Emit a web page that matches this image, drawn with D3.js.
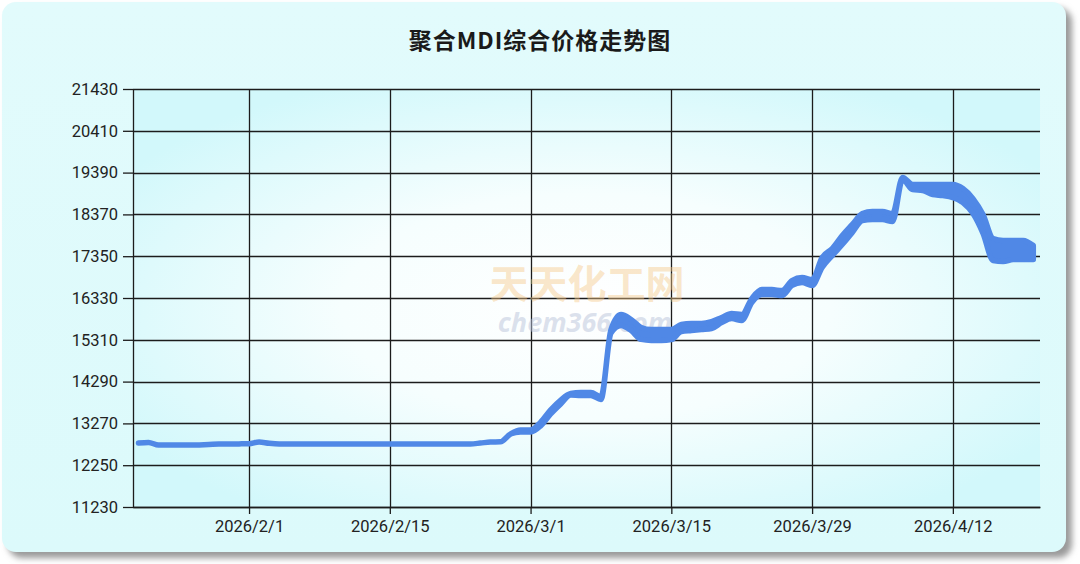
<!DOCTYPE html>
<html>
<head>
<meta charset="utf-8">
<script src="https://cdn.jsdelivr.net/npm/d3@7/dist/d3.min.js"></script>
<style>
  html, body { margin: 0; padding: 0; background: #ffffff; }
  svg { display: block; }
</style>
</head>
<body>
<svg id="chart" width="1080" height="564"></svg>
<script>
// ---------------- DATA ----------------
const chartTitle = "聚合MDI综合价格走势图";
const dates = ["2026-01-21","2026-01-22","2026-01-23","2026-01-26","2026-01-28","2026-01-29","2026-01-31","2026-02-01","2026-02-02","2026-02-03","2026-02-04","2026-02-08","2026-02-12","2026-02-16","2026-02-20","2026-02-23","2026-02-24","2026-02-25","2026-02-26","2026-02-27","2026-02-28","2026-03-01","2026-03-02","2026-03-03","2026-03-04","2026-03-05","2026-03-06","2026-03-07","2026-03-08","2026-03-09","2026-03-10","2026-03-11","2026-03-12","2026-03-13","2026-03-14","2026-03-15","2026-03-16","2026-03-17","2026-03-18","2026-03-19","2026-03-20","2026-03-21","2026-03-22","2026-03-23","2026-03-24","2026-03-25","2026-03-26","2026-03-27","2026-03-28","2026-03-29","2026-03-30","2026-03-31","2026-04-01","2026-04-02","2026-04-03","2026-04-04","2026-04-05","2026-04-06","2026-04-07","2026-04-08","2026-04-09","2026-04-10","2026-04-11","2026-04-12","2026-04-13","2026-04-14","2026-04-15","2026-04-16","2026-04-17","2026-04-18","2026-04-19","2026-04-20"];
const priceHigh = [12790,12805,12740,12740,12755,12765,12770,12775,12815,12785,12770,12770,12765,12770,12770,12770,12790,12815,12820,13010,13110,13110,13300,13600,13840,14000,14025,14025,13925,15560,15925,15805,15610,15560,15560,15560,15685,15710,15710,15755,15855,15950,15925,16315,16535,16535,16510,16755,16830,16780,17320,17535,17855,18125,18390,18440,18440,18390,19270,19100,19100,19100,19100,19100,19000,18755,18365,17780,17735,17735,17735,17610];
const priceLow  = [12790,12805,12740,12740,12755,12765,12770,12775,12815,12785,12770,12770,12765,12770,12770,12770,12790,12815,12820,13010,13060,13060,13210,13500,13745,13960,13950,13950,13855,15480,15660,15535,15320,15295,15295,15315,15510,15535,15560,15585,15730,15830,15780,16220,16415,16415,16390,16635,16710,16635,17075,17365,17635,17930,18220,18245,18245,18195,19220,18975,18955,18855,18830,18780,18660,18390,17905,17245,17220,17270,17270,17270];
const yTickValues = [11230,12250,13270,14290,15310,16330,17350,18370,19390,20410,21430];
const xTickDates  = ["2026-02-01","2026-02-15","2026-03-01","2026-03-15","2026-03-29","2026-04-12"];
const xTickLabels = ["2026/2/1","2026/2/15","2026/3/1","2026/3/15","2026/3/29","2026/4/12"];
const watermarkCN = "天天化工网";
const watermarkEN = "chem366.com";

// ---------------- LAYOUT ----------------
const plot = { left: 133, right: 1040, top: 89, bottom: 507 };
const parse = d3.utcParse("%Y-%m-%d");

const svg = d3.select("#chart");
const defs = svg.append("defs");

const shadow = defs.append("filter").attr("id", "shadow").attr("x", "-5%").attr("y", "-5%").attr("width", "110%").attr("height", "110%");
shadow.append("feGaussianBlur").attr("stdDeviation", 3);

const rg = defs.append("radialGradient").attr("id", "plotBg")
  .attr("cx", "50%").attr("cy", "52%").attr("r", "60%");
rg.append("stop").attr("offset", "0%").attr("stop-color", "#ffffff");
rg.append("stop").attr("offset", "45%").attr("stop-color", "#f6fefe");
rg.append("stop").attr("offset", "100%").attr("stop-color", "#d2f8fb");

const cardG = defs.append("linearGradient").attr("id", "cardBg").attr("x1", 0).attr("y1", 0).attr("x2", 0).attr("y2", 1);
cardG.append("stop").attr("offset", "0%").attr("stop-color", "#e2fbfc");
cardG.append("stop").attr("offset", "100%").attr("stop-color", "#dcfafb");

// card + shadow
svg.append("rect").attr("x", 8).attr("y", 8).attr("width", 1064).attr("height", 550)
  .attr("rx", 14).attr("fill", "#9a9a9a").attr("filter", "url(#shadow)");
svg.append("rect").attr("x", 2).attr("y", 2).attr("width", 1064).attr("height", 550)
  .attr("rx", 14).attr("fill", "url(#cardBg)");

// plot background
svg.append("rect").attr("x", plot.left).attr("y", plot.top)
  .attr("width", plot.right - plot.left).attr("height", plot.bottom - plot.top)
  .attr("fill", "url(#plotBg)");

// scales
const x = d3.scaleUtc()
  .domain([new Date(Date.UTC(2026, 0, 20, 11)), new Date(Date.UTC(2026, 3, 20, 16))])
  .range([plot.left, plot.right]);
const y = d3.scaleLinear().domain([11230, 21430]).range([plot.bottom, plot.top]);

// title
svg.append("text").attr("x", 540).attr("y", 49).attr("text-anchor", "middle")
  .attr("font-family", "'Noto Sans CJK SC', sans-serif").attr("font-weight", "bold")
  .attr("font-size", 23).attr("letter-spacing", 1).attr("fill", "#1a1a1a").text(chartTitle);

// grid
const grid = svg.append("g").attr("stroke", "#1c1c1c").attr("stroke-width", 1.3);
grid.selectAll("line.h").data(yTickValues).join("line").attr("class", "h")
  .attr("x1", plot.left).attr("x2", plot.right)
  .attr("y1", d => Math.round(y(d)) + 0.5).attr("y2", d => Math.round(y(d)) + 0.5);
grid.selectAll("line.v").data(xTickDates).join("line").attr("class", "v")
  .attr("x1", d => Math.round(x(parse(d))) + 0.5).attr("x2", d => Math.round(x(parse(d))) + 0.5)
  .attr("y1", plot.top).attr("y2", plot.bottom);

// watermark
svg.append("text").attr("x", 587).attr("y", 298).attr("text-anchor", "middle")
  .attr("font-family", "'Noto Sans CJK SC', sans-serif").attr("font-weight", "bold")
  .attr("font-size", 39).attr("fill", "#f6c98a").attr("fill-opacity", 0.45).text(watermarkCN);
svg.append("text").attr("x", 585).attr("y", 332).attr("text-anchor", "middle")
  .attr("font-family", "'Open Sans', sans-serif").attr("font-weight", "bold").attr("font-style", "italic")
  .attr("font-size", 27).attr("fill", "#b9c3da").attr("fill-opacity", 0.5).text(watermarkEN);

// axes
const axisFont = "Roboto, 'Liberation Sans', sans-serif";
const yAxis = svg.append("g").attr("transform", `translate(${plot.left},0)`)
  .call(d3.axisLeft(y).tickValues(yTickValues).tickFormat(d3.format("d")).tickSize(10).tickSizeOuter(0).tickPadding(5));
const xAxis = svg.append("g").attr("transform", `translate(0,${plot.bottom})`)
  .call(d3.axisBottom(x).tickValues(xTickDates.map(parse))
    .tickFormat((d, i) => xTickLabels[i]).tickSize(7).tickSizeOuter(0).tickPadding(6));
[yAxis, xAxis].forEach(a => {
  a.selectAll("path.domain").attr("stroke", "#1c1c1c").attr("stroke-width", 1.3);
  a.selectAll(".tick line").attr("stroke", "#1c1c1c").attr("stroke-width", 1.3);
  a.selectAll(".tick text").attr("font-family", axisFont).attr("font-size", 16.5).attr("fill", "#222");
});

// price band
const series = dates.map((d, i) => ({ date: parse(d), hi: priceHigh[i], lo: priceLow[i] }));
const area = d3.area()
  .x(d => x(d.date)).y0(d => y(d.lo)).y1(d => y(d.hi))
  .curve(d3.curveMonotoneX);
svg.append("path").datum(series).attr("d", area)
  .attr("fill", "#5088e6").attr("stroke", "#5088e6").attr("stroke-width", 5.5)
  .attr("stroke-linejoin", "round").attr("stroke-linecap", "round");
</script>
</body>
</html>
